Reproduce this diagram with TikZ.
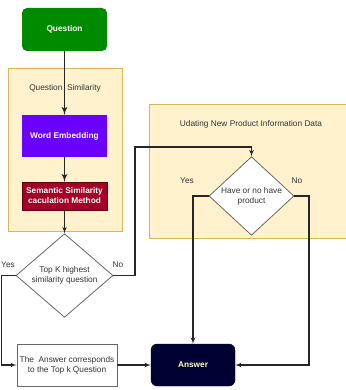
\documentclass[tikz,border=0pt]{standalone}
\usepackage{fontspec}
\setmainfont{Liberation Sans}
\usetikzlibrary{arrows}
\usetikzlibrary{shapes.geometric}
\definecolor{qgreen}{HTML}{008A00}
\definecolor{wpurple}{HTML}{6A00FF}
\definecolor{sred}{HTML}{A20025}
\definecolor{anavy}{HTML}{000033}
\definecolor{cfill}{HTML}{FFF2CC}
\definecolor{cline}{HTML}{D6B656}
\definecolor{tgray}{HTML}{333333}
\tikzset{colbox/.style = {rectangle, draw=none, text=white, font=\fontsize{8.3}{10}\selectfont\bfseries,
                          minimum width=85pt, align=center, inner sep=1pt}}
\tikzset{decide/.style = {diamond, draw=black!60, line width=0.8pt, fill=white, text=tgray, align=center,
                          font=\fontsize{8.3}{10}\selectfont, inner sep=0pt}}
\tikzset{flow/.style = {-latex', line width=1.1pt, black!85}}
\tikzset{bold flow/.style = {-latex', line width=1.7pt, black!85}}
\tikzset{lbl/.style = {text=tgray, font=\fontsize{8.3}{10}\selectfont}}

\begin{document}
\begin{tikzpicture}[x=1pt, y=-1pt]
    \useasboundingbox (0, 0) rectangle (345, 390);

    % containers
    \fill [cfill] (8, 68) rectangle (122, 231);
    \draw [cline, line width=0.8pt] (8, 68) rectangle (122, 231);
    \node [lbl] (simtitle) at (65, 88) {Question\ \ Similarity};

    \fill [cfill] (149, 104) rectangle (347, 238);
    \draw [cline, line width=0.8pt] (149, 104) rectangle (347, 238);
    \node [lbl] (updtitle) at (251, 124) {Udating New Product Information Data};

    % nodes
    \node [colbox, fill=qgreen, rounded corners=5pt, minimum height=43pt] (question) at (64.5, 29.5) {Question};
    \node [colbox, fill=wpurple, minimum height=42pt] (embed) at (64.5, 136) {Word Embedding};
    \node [colbox, fill=sred, draw=black!40!sred, minimum height=28pt] (semantic) at (64.5, 196) {Semantic Similarity\\caculation Method};
    \node [decide, minimum width=97pt, minimum height=63pt] (topk) at (64.5, 275.5) {Top K highest\\similarity question};
    \node [decide, minimum width=85pt, minimum height=56pt] (product) at (251.5, 196) {Have or no have\\product};
    \node [rectangle, draw=black!60, line width=0.8pt, fill=white, text=tgray, align=center, font=\fontsize{8.3}{10}\selectfont,
           minimum width=100pt, minimum height=42pt, inner sep=1pt] (corresp) at (67, 365) {The\ \ Answer corresponds\\to the Top k Question};
    \node [colbox, fill=anavy, draw=black, rounded corners=6pt, minimum width=84pt, minimum height=42pt] (answer) at (193, 365)
          {\setlength{\fboxsep}{0.5pt}\colorbox{black}{Answer}};

    \coordinate (nobend) at (135, 147);
    \coordinate (nodown) at (309, 365);

    % connectors
    \draw [bold flow] (question) -- (embed);
    \draw [bold flow] (embed) -- (semantic);
    \draw [flow] (semantic) -- (topk);
    \draw [flow] (topk.west) -- ++(-14, 0) |- (corresp.west);
    \draw [flow] (topk.east) -| (nobend) -| (product.north);
    \draw [flow] (product.west) -| (answer.north);
    \draw [flow] (product.east) -| (nodown) -- (answer.east);
    \draw [flow] (corresp) -- (answer);

    \node [lbl] (yes1) at (8, 265) {Yes};
    \node [lbl] (no1) at (118, 265) {No};
    \node [lbl] (yes2) at (187, 181) {Yes};
    \node [lbl] (no2) at (297, 181) {No};
  \end{tikzpicture}
\end{document}
